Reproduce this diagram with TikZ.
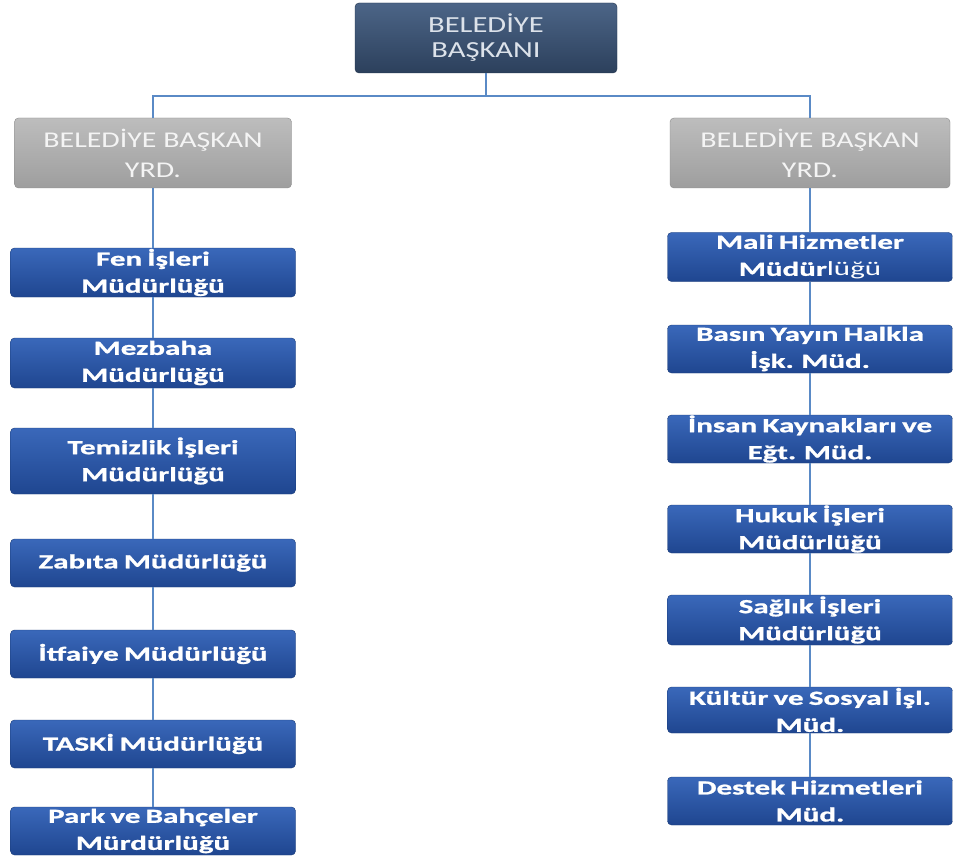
\documentclass[tikz,border=0pt]{standalone}
\usepackage{fontspec}
\setmainfont{Carlito}
\newfontfamily\headfont{Carlito}[FakeStretch=1.33]
\newfontfamily\deptfont{Carlito}[FakeStretch=1.55,WordSpace=0.75,BoldFeatures={FakeBold=1.2}]
\definecolor{linec}{HTML}{5A8AC6}
\definecolor{topdraw}{HTML}{22344C}
\definecolor{topA}{HTML}{4C6587}
\definecolor{topB}{HTML}{2C405C}
\definecolor{topText}{HTML}{DCE2EA}
\definecolor{vpdraw}{HTML}{8A8A8A}
\definecolor{vpA}{HTML}{BDBDBD}
\definecolor{vpB}{HTML}{9E9E9E}
\definecolor{vpText}{HTML}{F4F4F4}
\definecolor{deptdraw}{HTML}{1A3C78}
\definecolor{deptA}{HTML}{3A68BA}
\definecolor{deptB}{HTML}{1F4690}
\tikzset{
  topbox/.style={draw=topdraw, rounded corners=4pt, top color=topA, bottom color=topB,
    minimum width=262pt, minimum height=70pt, inner sep=0pt, text=topText, align=center,
    font={\headfont\fontsize{23}{25}\selectfont}},
  vpbox/.style={draw=vpdraw, rounded corners=4pt, top color=vpA, bottom color=vpB,
    minimum width=#1, minimum height=70pt, inner sep=0pt, text=vpText, align=center,
    font={\headfont\fontsize{22.5}{30}\selectfont}},
  deptbox/.style={draw=deptdraw, rounded corners=4pt, top color=deptA, bottom color=deptB,
    minimum width=285pt, minimum height=#1, inner sep=0pt, text=white, align=center,
    font={\deptfont\bfseries\fontsize{20}{27}\selectfont}},
  deptbox/.default=48pt,
  conn/.style={draw=linec, line width=2pt}
}
\begin{document}
\begin{tikzpicture}[x=1pt,y=-1pt]
\useasboundingbox[fill=white] (0,0) rectangle (953,861);

\node[topbox] (top) at (486,38) {BELEDİYE\\BAŞKANI};
\node[vpbox=277pt] (vp1) at (153,153) {BELEDİYE BAŞKAN\\YRD.};
\node[vpbox=280pt] (vp2) at (810,153) {BELEDİYE BAŞKAN\\YRD.};
\coordinate (j) at (486,96);

% left column
\node[deptbox=49pt] (l1) at (153,272.5) {Fen İşleri\\Müdürlüğü};
\node[deptbox=50pt] (l2) at (153,363) {Mezbaha\\Müdürlüğü};
\node[deptbox=66pt] (l3) at (153,461) {Temizlik İşleri\\Müdürlüğü};
\node[deptbox] (l4) at (153,563) {Zabıta Müdürlüğü};
\node[deptbox] (l5) at (153,654) {İtfaiye Müdürlüğü};
\node[deptbox] (l6) at (153,744) {TASKİ Müdürlüğü};
\node[deptbox] (l7) at (153,831) {Park ve Bahçeler\\Mürdürlüğü};

% right column
\node[deptbox=49pt] (r1) at (810,257) {Mali Hizmetler\\Müdür{\mdseries lüğü}};
\node[deptbox] (r2) at (810,349) {Basın Yayın Halkla\\İşk. Müd.};
\node[deptbox] (r3) at (810,439) {İnsan Kaynakları ve\\Eğt. Müd.};
\node[deptbox] (r4) at (810,529) {Hukuk İşleri\\Müdürlüğü};
\node[deptbox=50pt] (r5) at (810,620) {Sağlık İşleri\\Müdürlüğü};
\node[deptbox=46pt] (r6) at (810,710) {Kültür ve Sosyal İşl.\\Müd.};
\node[deptbox] (r7) at (810,801) {Destek Hizmetleri\\Müd.};

\draw[conn] (top.south) -- (j);
\draw[conn] (j) -| (vp1.north);
\draw[conn] (j) -| (vp2.north);
\draw[conn] (vp1.south) -- (l1.north);
\draw[conn] (l1.south) -- (l2.north);
\draw[conn] (l2.south) -- (l3.north);
\draw[conn] (l3.south) -- (l4.north);
\draw[conn] (l4.south) -- (l5.north);
\draw[conn] (l5.south) -- (l6.north);
\draw[conn] (l6.south) -- (l7.north);
\draw[conn] (vp2.south) -- (r1.north);
\draw[conn] (r1.south) -- (r2.north);
\draw[conn] (r2.south) -- (r3.north);
\draw[conn] (r3.south) -- (r4.north);
\draw[conn] (r4.south) -- (r5.north);
\draw[conn] (r5.south) -- (r6.north);
\draw[conn] (r6.south) -- (r7.north);
\end{tikzpicture}
\end{document}
